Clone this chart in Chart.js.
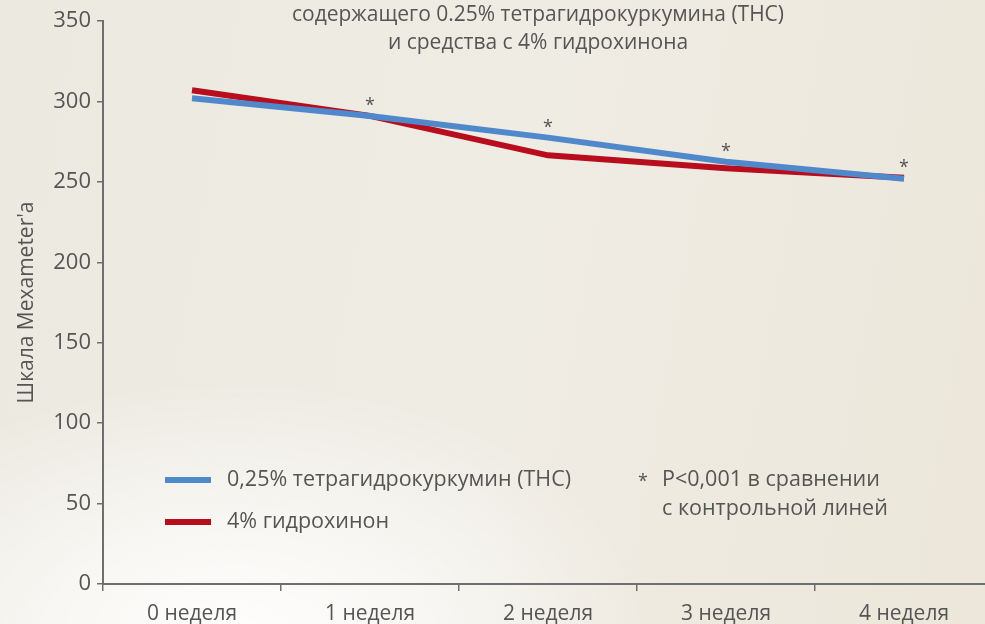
<!DOCTYPE html>
<html>
<head>
<meta charset="utf-8">
<script src="https://cdn.jsdelivr.net/npm/chart.js@4"></script>
<style>
  html, body { margin: 0; padding: 0; overflow: hidden; width: 985px; height: 624px; }
  body {
    background:
      radial-gradient(ellipse 420px 260px at 230px 640px, rgba(255,255,255,0.95) 0%, rgba(255,255,255,0.6) 45%, rgba(255,255,255,0) 100%),
      linear-gradient(100deg, #ece9e0 0%, #efece4 50%, #ece7da 100%);
  }
  #wrap { position: absolute; left: 0; top: 0; width: 1000px; height: 624px; }
</style>
</head>
<body>
<div id="wrap"><canvas id="c"></canvas></div>
<script>
const weeks = ['0 неделя', '1 неделя', '2 неделя', '3 неделя', '4 неделя'];
const thcValues = [302, 291, 277.5, 262.5, 252];
const hqValues = [307, 291, 266.5, 258.5, 252.5];
const significant = [false, true, true, true, true];
const yTicks = [0, 50, 100, 150, 200, 250, 300, 350];
const titleLines = ['содержащего 0.25% тетрагидрокуркумина (THC)', 'и средства с 4% гидрохинона'];
const noteLines = ['P<0,001 в сравнении', 'с контрольной линей'];
const seriesLabels = ['0,25% тетрагидрокуркумин (THC)', '4% гидрохинон'];
const yTitle = "Шкала Mexameter'a";

const TEXT = '#555555';
const AXIS = '#6e6e6e';
const FONT = '"Open Sans", "Noto Sans", sans-serif';

const overlay = {
  id: 'overlay',
  afterDatasetsDraw(chart) {
    const ctx = chart.ctx;
    const area = chart.chartArea;
    const xs = chart.scales.x, ys = chart.scales.y;
    ctx.save();
    ctx.fillStyle = TEXT;
    // title
    ctx.font = '21px ' + FONT;
    ctx.textAlign = 'center';
    ctx.textBaseline = 'middle';
    const cx = (area.left + area.right) / 2;
    titleLines.forEach((t, i) => ctx.fillText(t, cx - 10, 15 + i * 28));
    // asterisks
    ctx.font = '18px ' + FONT;
    significant.forEach((s, i) => {
      if (!s) return;
      const px = xs.getPixelForValue(i);
      const py = Math.min(ys.getPixelForValue(thcValues[i]), ys.getPixelForValue(hqValues[i]));
      ctx.fillText('*', px, py - 10);
    });
    // legend
    const ds = chart.data.datasets;
    ctx.textAlign = 'left';
    ctx.font = '21.5px ' + FONT;
    ds.forEach((d, i) => {
      const y = 480 + i * 42;
      ctx.strokeStyle = d.borderColor;
      ctx.lineWidth = 6;
      ctx.beginPath();
      ctx.moveTo(165, y);
      ctx.lineTo(211, y);
      ctx.stroke();
      ctx.fillText(d.label, 227, y);
    });
    // note
    ctx.font = '18px ' + FONT;
    ctx.fillText('*', 638, 482);
    ctx.font = '21.5px ' + FONT;
    noteLines.forEach((t, i) => ctx.fillText(t, 662, 480 + i * 29));
    ctx.restore();
  }
};

new Chart(document.getElementById('c'), {
  type: 'line',
  data: {
    labels: weeks,
    datasets: [
      { label: seriesLabels[0], data: thcValues, borderColor: '#5089cb', borderWidth: 6, pointRadius: 0, tension: 0, fill: false },
      { label: seriesLabels[1], data: hqValues, borderColor: '#b70d1d', borderWidth: 6, pointRadius: 0, tension: 0, fill: false }
    ]
  },
  options: {
    responsive: true,
    maintainAspectRatio: false,
    animation: false,
    events: [],
    layout: { padding: { top: 21, right: 7, left: 0, bottom: 0 } },
    plugins: { legend: { display: false }, title: { display: false }, tooltip: { enabled: false } },
    scales: {
      x: {
        offset: true,
        grid: { offset: true, drawOnChartArea: false, drawTicks: true, tickLength: 7, color: AXIS, lineWidth: 1.5 },
        border: { color: AXIS, width: 2 },
        ticks: { color: TEXT, font: { family: FONT, size: 21 }, padding: 10, maxRotation: 0 },
        afterFit(s) { s.height = 40; }
      },
      y: {
        min: 0, max: 350,
        afterBuildTicks(s) { s.ticks = yTicks.map(v => ({ value: v })); },
        grid: { drawOnChartArea: false, drawTicks: true, tickLength: 6, color: AXIS, lineWidth: 1.5 },
        border: { color: AXIS, width: 2 },
        ticks: { color: TEXT, font: { family: FONT, size: 22 }, padding: 6 },
        title: { display: true, text: yTitle, color: TEXT, font: { family: FONT, size: 21 }, padding: { top: 14, bottom: 4 } },
        afterFit(s) { s.width = 103; }
      }
    }
  },
  plugins: [overlay]
});
</script>
</body>
</html>
